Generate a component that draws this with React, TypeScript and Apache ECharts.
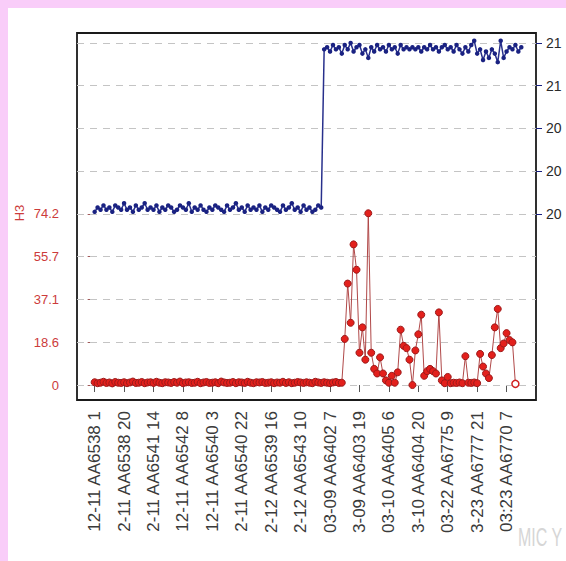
import React, { useEffect, useRef } from "react";
import * as echarts from "echarts";

// x tick labels (visible part), one every 10 samples
const tickLabels = [
  "12-11 AA6538 1",
  "2-11 AA6538 20",
  "2-11 AA6541 14",
  "12-11 AA6542 8",
  "12-11 AA6540 3",
  "2-11 AA6540 22",
  "2-12 AA6539 16",
  "2-12 AA6543 10",
  "03-09 AA6402 7",
  "3-09 AA6403 19",
  "03-10 AA6405 6",
  "3-10 AA6404 20",
  "03-22 AA6775 9",
  "3-23 AA6777 21",
  "03:23 AA6770 7",
];
const tickStep = 10;

// left axis (H3, red)
const leftTickValues = [0, 18.55, 37.1, 55.65, 74.2];
const leftTickLabels = ["0", "18.6", "37.1", "55.7", "74.2"];
const gridValues = [0, 18.55, 37.1, 55.65, 74.2, 92.75, 111.3, 129.85, 148.4];

// right axis (blue)
const rightTickValues = [20.4, 20.6, 20.8, 21.0, 21.2];

const h3Values = [
  1.2, 0.8, 1.0, 1.4, 0.9, 1.1, 0.7, 1.3, 1.0, 0.9,
  1.2, 0.8, 1.1, 1.5, 0.9, 1.0, 1.3, 0.8, 1.1, 1.2,
  0.9, 1.4, 1.0, 0.8, 1.2, 1.1, 0.9, 1.3, 1.0, 1.5,
  0.8, 1.1, 1.2, 0.9, 1.0, 1.4, 0.8, 1.1, 1.3, 0.9,
  1.0, 1.2, 0.8, 1.5, 1.1, 0.9, 1.0, 1.3, 0.8, 1.2,
  1.1, 0.9, 1.4, 1.0, 0.8, 1.2, 1.1, 1.3, 0.9, 1.0,
  1.2, 0.8, 1.1, 1.0, 1.4, 0.9, 1.2, 0.8, 1.0, 1.3,
  1.1, 0.9, 1.2, 1.0, 0.8, 1.4, 1.1, 0.9, 1.2, 1.0,
  0.8, 1.1, 1.3, 0.9, 1.0,
  20, 44, 27, 61, 50, 14, 25, 11, 74.5, 14,
  7, 5, 12, 5, 2, 1, 4, 1, 5.5, 24,
  17, 16, 11, 0, 15, 22, 30.5, 4, 6, 7,
  6, 5, 31.5, 2, 0.8, 3.5, 0.8, 1.0, 0.9, 1.1,
  0.8, 12.5, 1.0, 0.9, 1.1, 0.8, 13.5, 8, 5, 3,
  13, 25, 33, 16, 18, 22.5, 19.5, 18.5, 0.5,
];

const blueValues = [
  20.41, 20.43, 20.42, 20.44, 20.42, 20.43, 20.41, 20.44, 20.43, 20.42,
  20.45, 20.42, 20.43, 20.41, 20.44, 20.42, 20.43, 20.45, 20.42, 20.43,
  20.42, 20.44, 20.41, 20.43, 20.42, 20.44, 20.43, 20.41, 20.42, 20.44,
  20.43, 20.42, 20.45, 20.41, 20.43, 20.42, 20.44, 20.42, 20.41, 20.43,
  20.42, 20.44, 20.43, 20.42, 20.41, 20.44, 20.42, 20.43, 20.45, 20.42,
  20.43, 20.41, 20.44, 20.42, 20.43, 20.42, 20.44, 20.41, 20.43, 20.42,
  20.44, 20.43, 20.42, 20.41, 20.44, 20.42, 20.43, 20.45, 20.42, 20.43,
  20.41, 20.44, 20.42, 20.43, 20.41, 20.42, 20.44, 20.43,
  21.17, 21.18, 21.16, 21.19, 21.17, 21.18, 21.15, 21.19, 21.17, 21.20,
  21.16, 21.18, 21.19, 21.15, 21.17, 21.13, 21.18, 21.16, 21.19, 21.17,
  21.18, 21.16, 21.19, 21.17, 21.18, 21.15, 21.19, 21.17, 21.18, 21.17,
  21.18, 21.17, 21.18, 21.16, 21.18, 21.17, 21.19, 21.17, 21.18, 21.16,
  21.18, 21.19, 21.17, 21.18, 21.16, 21.19, 21.17, 21.15, 21.18, 21.16,
  21.19, 21.21, 21.15, 21.17, 21.12, 21.16, 21.13, 21.17, 21.15, 21.11,
  21.21, 21.13, 21.16, 21.18, 21.17, 21.19, 21.16, 21.18,
];

const RED = "#cc3b3b";
const NAVY = "#1a2282";
const narrow = "'Liberation Sans Narrow', 'Liberation Sans', Arial, sans-serif";

export default function App() {
  const ref = useRef<HTMLDivElement>(null);

  useEffect(() => {
    if (!ref.current) return;
    const chart = echarts.init(ref.current, undefined, { renderer: "svg" });

    const labelIdx = tickLabels.map((_, i) => i * tickStep);
    const lastIdx = h3Values.length - 1;
    const redData = h3Values.map((v, i) =>
      i === lastIdx
        ? { value: [i, v], itemStyle: { color: "#ffffff", borderColor: "#d02020", borderWidth: 1.5 } }
        : { value: [i, v] }
    );
    const blueData = blueValues.map((v, i) => [i, v]);

    // map left scale to right scale so gridlines coincide
    const redMin = -6.5;
    const redMax = 152.7;
    const toBlue = (r: number) => 19.6 + (r * 0.2) / 18.55;

    chart.setOption({
      animation: false,
      backgroundColor: "#ffffff",
      grid: {
        left: 69,
        top: 25,
        width: 459,
        height: 367,
        show: true,
        borderColor: "#1a1a1a",
        borderWidth: 1.8,
        backgroundColor: "transparent",
      },
      xAxis: {
        type: "value",
        min: -6,
        max: 150,
        axisLine: { show: false },
        splitLine: { show: false },
        axisTick: {
          show: true,
          customValues: labelIdx,
          length: 7,
          lineStyle: { color: "#555", width: 1 },
        },
        axisLabel: {
          customValues: labelIdx,
          rotate: 90,
          margin: 11,
          fontSize: 17,
          color: "#3a3a3a",
          fontFamily: "'Liberation Sans', Arial, sans-serif",
          formatter: (v: number) => tickLabels[Math.round(v / tickStep)] ?? "",
        },
      },
      yAxis: [
        {
          type: "value",
          position: "left",
          min: redMin,
          max: redMax,
          axisLine: { show: false },
          splitLine: { show: false },
          axisTick: {
            show: true,
            customValues: leftTickValues,
            length: 7,
            lineStyle: { color: "#a05a5a", width: 1 },
          },
          axisLabel: {
            customValues: leftTickValues,
            margin: 18,
            fontSize: 13,
            color: RED,
            fontFamily: narrow,
            formatter: (v: number) => {
              const k = leftTickValues.findIndex((t) => Math.abs(t - v) < 1e-6);
              return k >= 0 ? leftTickLabels[k] : "";
            },
          },
        },
        {
          type: "value",
          position: "right",
          min: toBlue(redMin),
          max: toBlue(redMax),
          axisLine: { show: false },
          splitLine: { show: false },
          axisTick: {
            show: true,
            customValues: rightTickValues,
            length: 6,
            lineStyle: { color: NAVY, width: 1 },
          },
          axisLabel: {
            customValues: rightTickValues,
            margin: 10,
            fontSize: 14,
            color: "#2a2a2a",
            fontFamily: narrow,
            formatter: (v: number) => String(Math.trunc(v + 1e-6)),
          },
        },
      ],
      series: [
        {
          type: "line",
          name: "blue",
          yAxisIndex: 1,
          data: blueData,
          symbol: "circle",
          symbolSize: 4.5,
          showAllSymbol: true,
          lineStyle: { color: "#28308c", width: 1.5 },
          itemStyle: { color: NAVY },
          z: 3,
        },
        {
          type: "line",
          name: "H3",
          yAxisIndex: 0,
          data: redData,
          symbol: "circle",
          symbolSize: 7,
          showAllSymbol: true,
          lineStyle: { color: "#b04848", width: 1 },
          itemStyle: { color: "#e3201c", borderColor: "#9c1a1a", borderWidth: 1 },
          z: 4,
          markLine: {
            silent: true,
            z: 1,
            symbol: ["none", "none"],
            label: { show: false },
            lineStyle: { color: "#c4c4c4", type: [7, 6], width: 1 },
            data: gridValues.map((v) => ({ yAxis: v })),
          },
        },
      ],
      graphic: [
        {
          type: "text",
          x: 11,
          y: 205,
          rotation: Math.PI / 2,
          style: {
            text: "H3",
            fill: RED,
            fontSize: 13,
            fontFamily: narrow,
            align: "center",
            verticalAlign: "middle",
          },
        },
        {
          type: "text",
          x: 510,
          y: 530,
          scaleY: 1.6,
          style: {
            text: "MIC Y",
            fill: "#d6d6d6",
            fontSize: 16,
            fontFamily: "'Liberation Sans', Arial, sans-serif",
            align: "left",
            verticalAlign: "middle",
          },
        },
      ],
    });

    return () => chart.dispose();
  }, []);

  return (
    <div
      style={{
        position: "fixed",
        left: 0,
        top: 0,
        width: 566,
        height: 561,
        background: "#f9cdf9",
        overflow: "hidden",
      }}
    >
      <div
        ref={ref}
        style={{
          position: "absolute",
          left: 8,
          top: 8,
          width: 558,
          height: 553,
          background: "#ffffff",
        }}
      />
    </div>
  );
}
